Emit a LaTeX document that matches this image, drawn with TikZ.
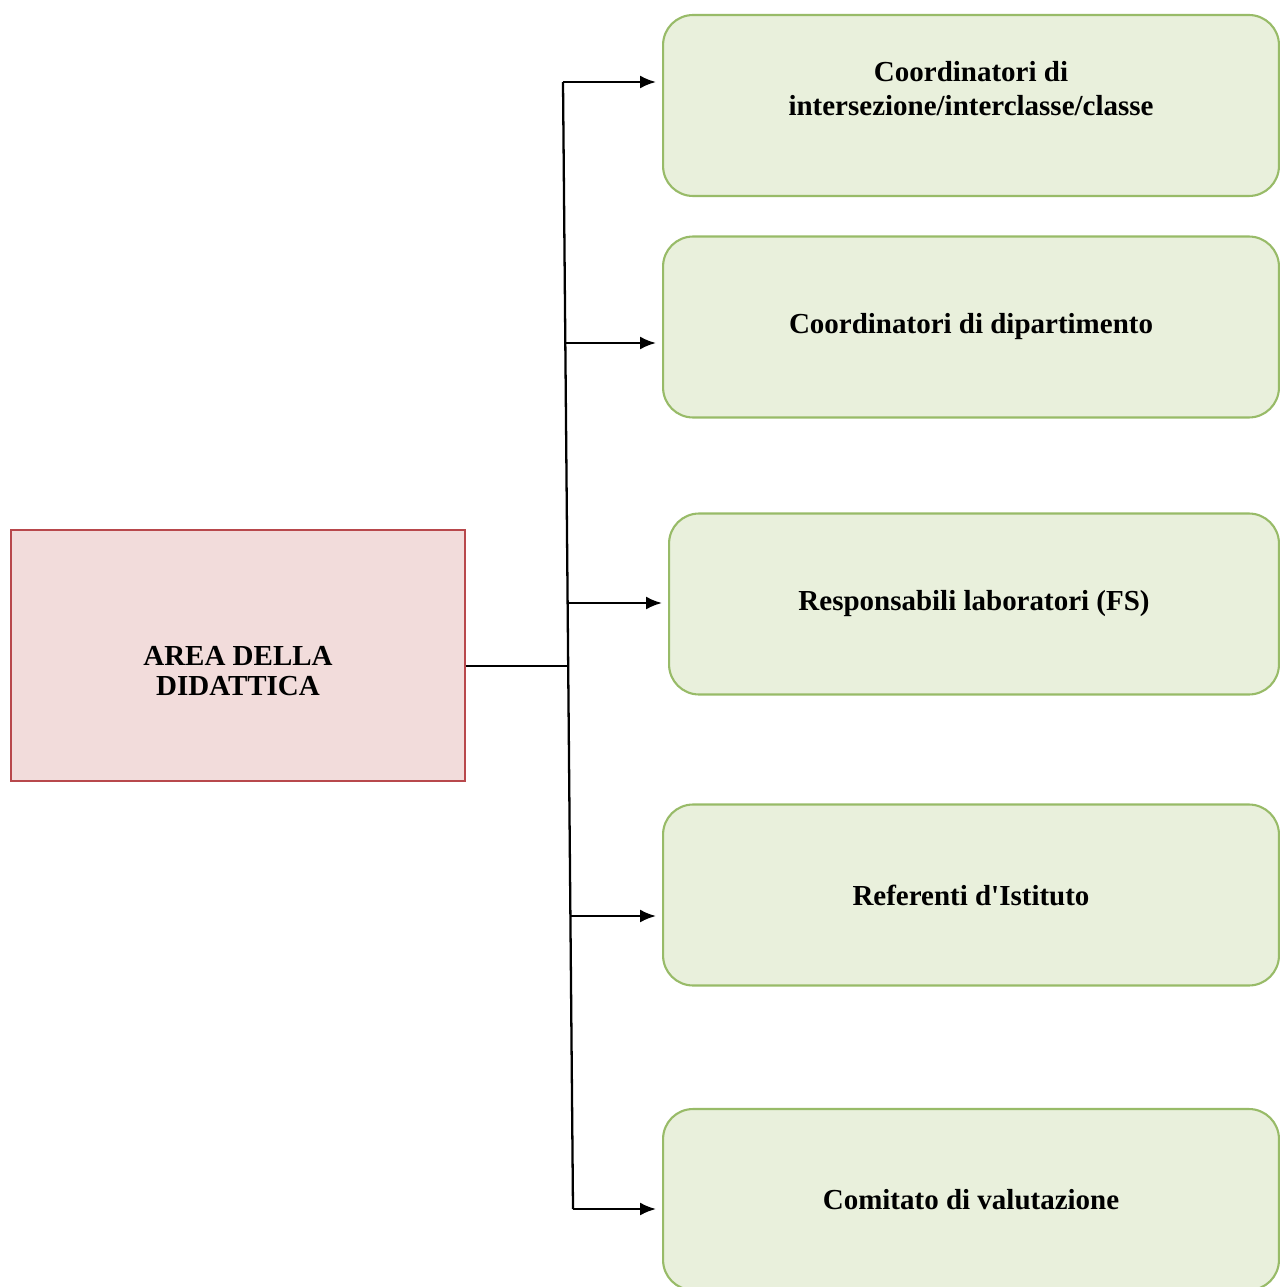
\documentclass[tikz,border=0pt]{standalone}
\usepackage{fontspec}
\setmainfont{Liberation Serif}
\usetikzlibrary{arrows.meta}
\definecolor{boxgreen}{RGB}{233,240,220}
\definecolor{linegreen}{RGB}{152,187,104}
\definecolor{boxred}{RGB}{242,220,219}
\definecolor{linered}{RGB}{184,72,76}
\begin{document}
\begin{tikzpicture}[x=0.02cm,y=-0.02cm,
area/.style={draw=linered,fill=boxred,line width=1pt,minimum width=9.08cm,minimum height=5.02cm,align=center,font=\fontsize{16.5}{17.6}\selectfont\bfseries},
ruolo/.style={draw=linegreen,fill=boxgreen,line width=1.2pt,rounded corners=0.6cm,minimum width=12.32cm,minimum height=3.62cm,align=center,font=\fontsize{16.5}{19.3}\selectfont\bfseries},
link/.style={line width=1.3pt}]
\useasboundingbox (0,0) rectangle (1280,1287);
\node[area] (area) at (238,655.5) {\mbox{}\\[11pt]AREA DELLA\\DIDATTICA};
\node[ruolo] (r1) at (971,105.5) {Coordinatori di\\intersezione/interclasse/classe\\\mbox{}};
\node[ruolo] (r2) at (971,327) {Coordinatori di dipartimento};
\node[ruolo,minimum width=12.2cm] (r3) at (974,604) {Responsabili laboratori (FS)};
\node[ruolo] (r4) at (971,895) {Referenti d\textquotesingle Istituto};
\node[ruolo] (r5) at (971,1199.5) {Comitato di valutazione};
% trunk and branches
\coordinate (b1) at (563,82);
\coordinate (b2) at (565.3,343);
\coordinate (b3) at (567.6,603);
\coordinate (b4) at (570.4,916);
\coordinate (b5) at (573,1209);
\coordinate (j) at (568.2,666);
\draw[link] (area.east |- j)--(j);
\draw[link] (b1)--(b5);
\foreach \i in {1,...,5}
{ \draw[link,-{Latex[length=0.32cm,width=0.26cm]},shorten >=0.12cm] (b\i)--(b\i -| r\i.west);
}
\end{tikzpicture}
\end{document}
